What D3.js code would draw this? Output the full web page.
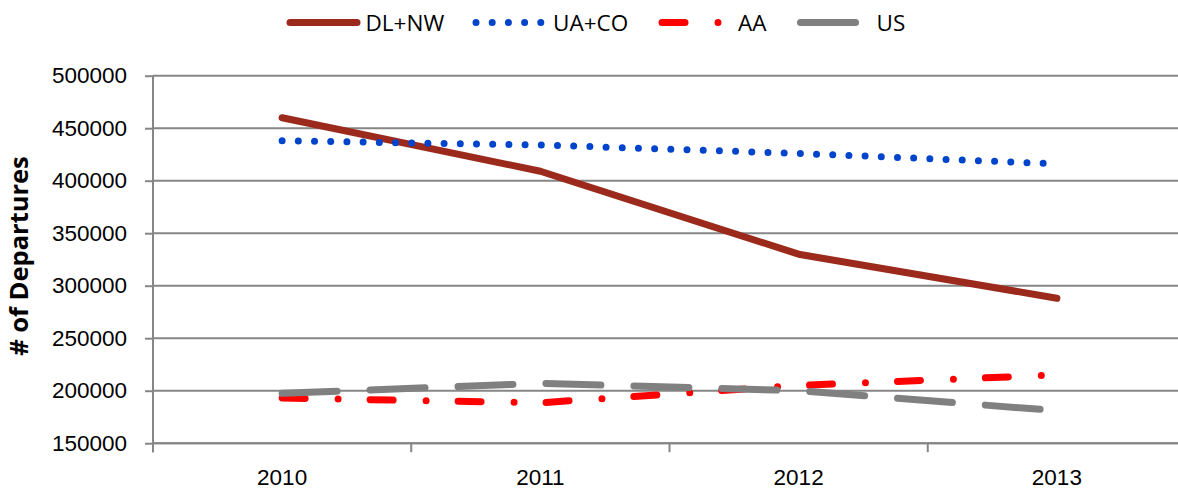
<!DOCTYPE html>
<html>
<head>
<meta charset="utf-8">
<script src="https://cdn.jsdelivr.net/npm/d3@7"></script>
<style>
  html, body { margin: 0; padding: 0; background: #fff; overflow: hidden; }
  svg { display: block; font-family: "Open Sans", sans-serif; }
</style>
</head>
<body>
<div id="chart"></div>
<script>
// data
const years = ["2010", "2011", "2012", "2013"];
const dlnw = [460000, 409000, 330000, 288000];
const uaco = [438000, 434000, 426000, 416000];
const aa = [193000, 188500, 205000, 215000];
const us = [197500, 207000, 200000, 181000];
const yTicks = [150000, 200000, 250000, 300000, 350000, 400000, 450000, 500000];
const seriesNames = ["DL+NW", "UA+CO", "AA", "US"];

const width = 1178, height = 489;
const plotLeft = 153, plotRight = 1186, plotTop = 75.7, plotBottom = 443.2;
const gridColor = "#868686";
const fontSize = "22.5px";

const svg = d3.select("#chart").append("svg")
    .attr("width", width)
    .attr("height", height);

const x = d3.scaleBand().domain(years).range([plotLeft, plotRight]);
const y = d3.scaleLinear().domain([150000, 500000]).range([plotBottom, plotTop]);
const cx = d => x(d) + x.bandwidth() / 2;

// horizontal gridlines
svg.append("g")
    .selectAll("line")
    .data(yTicks)
    .enter().append("line")
    .attr("x1", plotLeft).attr("x2", plotRight)
    .attr("y1", d => y(d)).attr("y2", d => y(d))
    .attr("stroke", gridColor)
    .attr("stroke-width", 2);

// y axis
const yAxis = svg.append("g")
    .attr("transform", `translate(${plotLeft},0)`)
    .call(d3.axisLeft(y).tickValues(yTicks).tickSize(8).tickPadding(18).tickFormat(d3.format("d")));
yAxis.select(".domain").attr("stroke", gridColor).attr("stroke-width", 2)
    .attr("d", `M0,${plotTop}V${plotBottom + 9}`);
yAxis.selectAll(".tick line").attr("stroke", gridColor).attr("stroke-width", 2);
yAxis.selectAll("text").style("font-size", fontSize).attr("fill", "#000");

// x axis (category labels centred, tick marks between categories)
const xAxis = svg.append("g")
    .attr("transform", `translate(0,${plotBottom})`)
    .call(d3.axisBottom(x).tickSize(0).tickPadding(0));
xAxis.select(".domain").attr("stroke", gridColor).attr("stroke-width", 2)
    .attr("d", `M${plotLeft},0H${plotRight}`);
xAxis.selectAll("text")
    .style("font-size", fontSize)
    .attr("fill", "#000")
    .attr("y", 42)
    .attr("dy", null);

const bounds = years.map(d => x(d)).concat([x.range()[1]]);
svg.append("g")
    .selectAll("line")
    .data(bounds)
    .enter().append("line")
    .attr("x1", d => d).attr("x2", d => d)
    .attr("y1", plotBottom).attr("y2", plotBottom + 9)
    .attr("stroke", gridColor)
    .attr("stroke-width", 2);

// axis title
svg.append("text")
    .attr("transform", `translate(28,256) rotate(-90)`)
    .attr("text-anchor", "middle")
    .style("font-size", "25.5px")
    .style("font-weight", "bold")
    .text("# of Departures");

// series
const styles = [
    { values: dlnw, color: "#9B2A1D", dash: null },
    { values: uaco, color: "#0044CC", dash: "0,16.2" },
    { values: aa, color: "#FF0000", dash: "23,33,0,32" },
    { values: us, color: "#808080", dash: "55,33" }
];

const line = d3.line()
    .x((d, i) => cx(years[i]))
    .y(d => y(d));

styles.forEach(s => {
    svg.append("path")
        .datum(s.values)
        .attr("fill", "none")
        .attr("stroke", s.color)
        .attr("stroke-width", 7)
        .attr("stroke-linecap", "round")
        .attr("stroke-linejoin", "round")
        .attr("stroke-dasharray", s.dash)
        .attr("d", line);
});

// legend
const legendX = [290, 476, 662, 800.5];
const legendLen = [67, 67, 60, 55];
const legendTextX = [365.5, 553, 738, 876.6];
const legendY = 22.5;

const legend = svg.append("g");
styles.forEach((s, i) => {
    legend.append("line")
        .attr("x1", legendX[i]).attr("x2", legendX[i] + legendLen[i])
        .attr("y1", legendY).attr("y2", legendY)
        .attr("stroke", s.color)
        .attr("stroke-width", 7)
        .attr("stroke-linecap", "round")
        .attr("stroke-dasharray", s.dash);
    legend.append("text")
        .attr("x", legendTextX[i])
        .attr("y", legendY)
        .attr("dy", "0.36em")
        .style("font-size", fontSize)
        .text(seriesNames[i]);
});
</script>
</body>
</html>
